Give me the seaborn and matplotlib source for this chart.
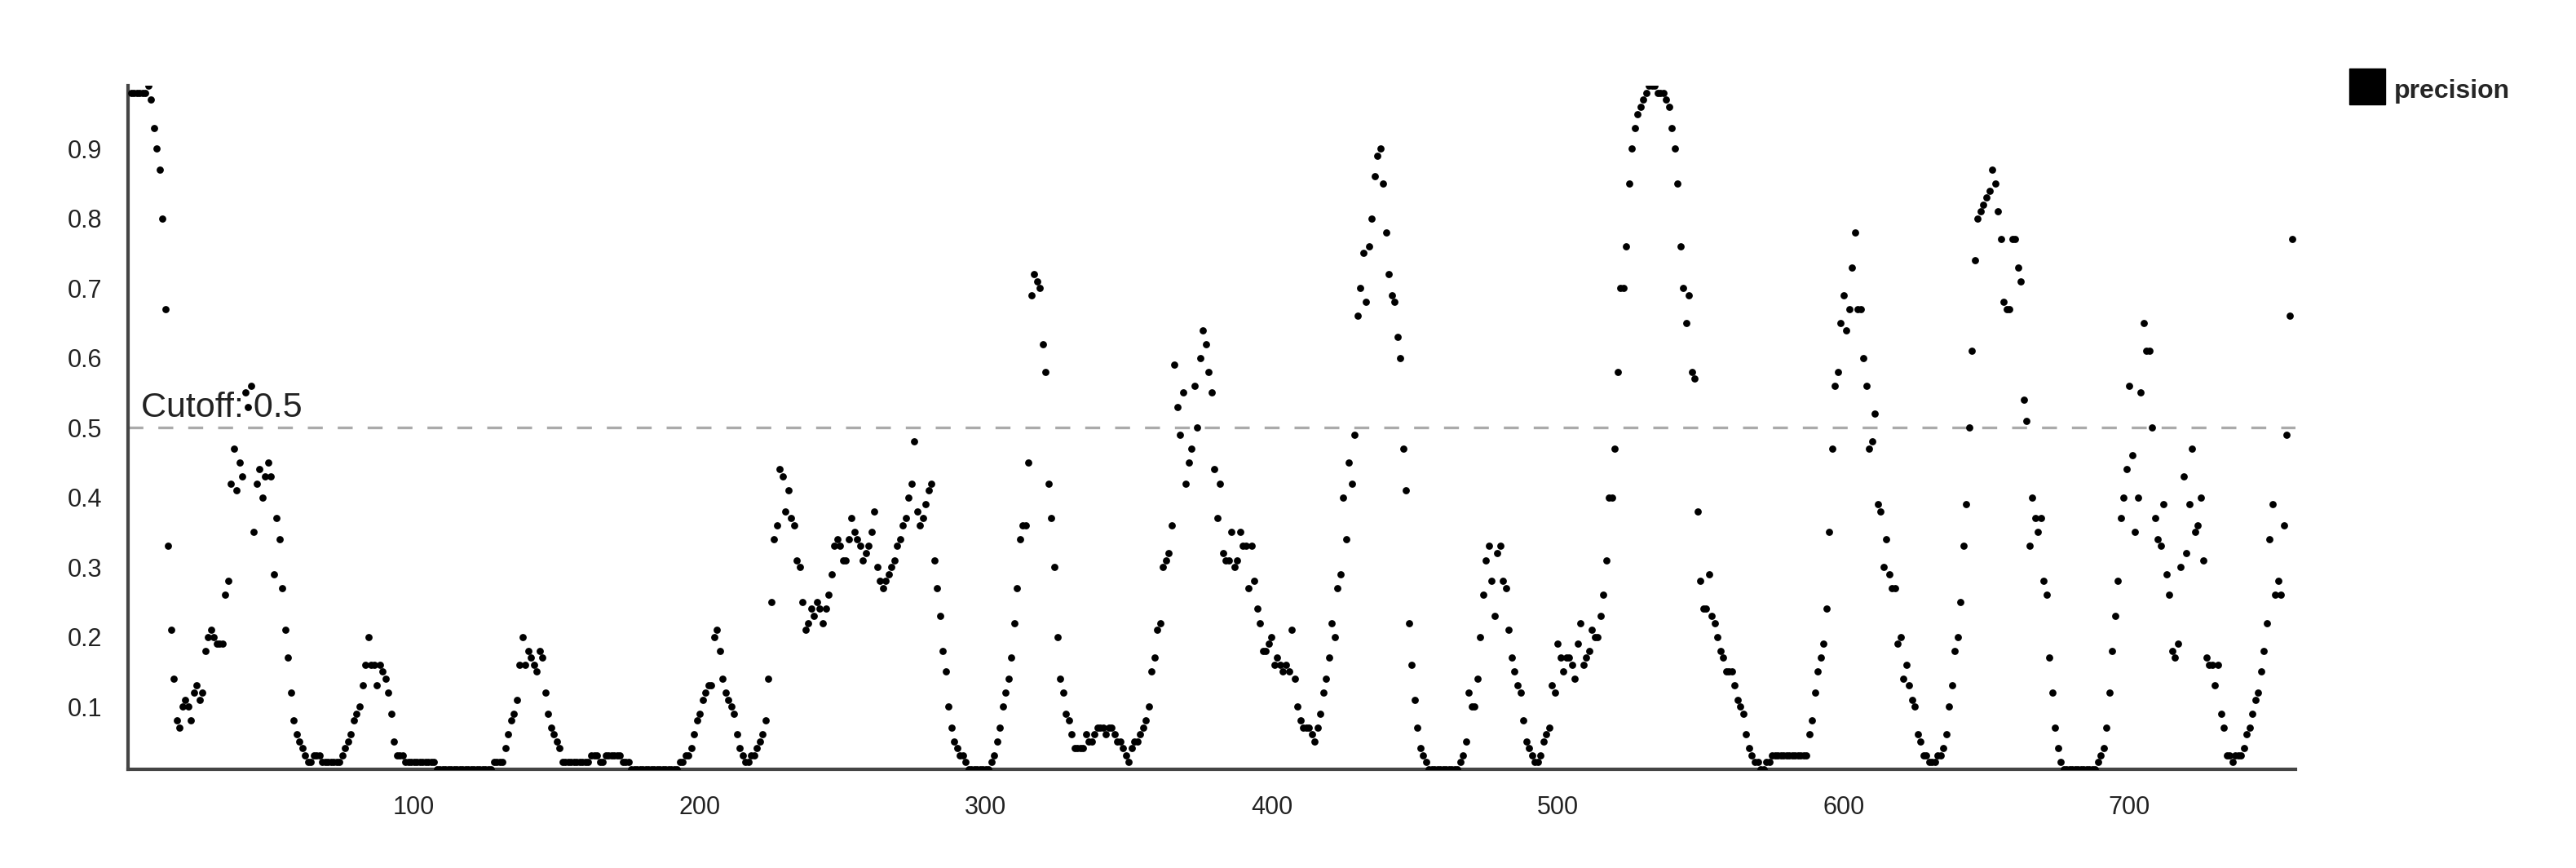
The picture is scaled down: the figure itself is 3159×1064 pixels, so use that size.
import matplotlib
matplotlib.use("Agg")
import matplotlib.pyplot as plt
import pandas as pd
import seaborn as sns
from matplotlib.lines import Line2D

# precision per residue position (positions 1..757)
prec_001_100 = [
    0.98, 0.98, 0.98, 0.98, 0.98, 0.98, 0.99, 0.97, 0.93, 0.90,
    0.87, 0.80, 0.67, 0.33, 0.21, 0.14, 0.08, 0.07, 0.10, 0.11,
    0.10, 0.08, 0.12, 0.13, 0.11, 0.12, 0.18, 0.20, 0.21, 0.20,
    0.19, 0.19, 0.19, 0.26, 0.28, 0.42, 0.47, 0.41, 0.45, 0.43,
    0.55, 0.53, 0.56, 0.35, 0.42, 0.44, 0.40, 0.43, 0.45, 0.43,
    0.29, 0.37, 0.34, 0.27, 0.21, 0.17, 0.12, 0.08, 0.06, 0.05,
    0.04, 0.03, 0.02, 0.02, 0.03, 0.03, 0.03, 0.02, 0.02, 0.02,
    0.02, 0.02, 0.02, 0.02, 0.03, 0.04, 0.05, 0.06, 0.08, 0.09,
    0.10, 0.13, 0.16, 0.20, 0.16, 0.16, 0.13, 0.16, 0.15, 0.14,
    0.12, 0.09, 0.05, 0.03, 0.03, 0.03, 0.02, 0.02, 0.02, 0.02,
]
prec_101_200 = [
    0.02, 0.02, 0.02, 0.02, 0.02, 0.02, 0.02, 0.01, 0.01, 0.01,
    0.01, 0.01, 0.01, 0.01, 0.01, 0.01, 0.01, 0.01, 0.01, 0.01,
    0.01, 0.01, 0.01, 0.01, 0.01, 0.01, 0.01, 0.02, 0.02, 0.02,
    0.02, 0.04, 0.06, 0.08, 0.09, 0.11, 0.16, 0.20, 0.16, 0.18,
    0.17, 0.16, 0.15, 0.18, 0.17, 0.12, 0.09, 0.07, 0.06, 0.05,
    0.04, 0.02, 0.02, 0.02, 0.02, 0.02, 0.02, 0.02, 0.02, 0.02,
    0.02, 0.03, 0.03, 0.03, 0.02, 0.02, 0.03, 0.03, 0.03, 0.03,
    0.03, 0.03, 0.02, 0.02, 0.02, 0.01, 0.01, 0.01, 0.01, 0.01,
    0.01, 0.01, 0.01, 0.01, 0.01, 0.01, 0.01, 0.01, 0.01, 0.01,
    0.01, 0.01, 0.02, 0.02, 0.03, 0.03, 0.04, 0.06, 0.08, 0.09,
]
prec_201_300 = [
    0.11, 0.12, 0.13, 0.13, 0.20, 0.21, 0.18, 0.14, 0.12, 0.11,
    0.10, 0.09, 0.06, 0.04, 0.03, 0.02, 0.02, 0.03, 0.03, 0.04,
    0.05, 0.06, 0.08, 0.14, 0.25, 0.34, 0.36, 0.44, 0.43, 0.38,
    0.41, 0.37, 0.36, 0.31, 0.30, 0.25, 0.21, 0.22, 0.24, 0.23,
    0.25, 0.24, 0.22, 0.24, 0.26, 0.29, 0.33, 0.34, 0.33, 0.31,
    0.31, 0.34, 0.37, 0.35, 0.34, 0.33, 0.31, 0.32, 0.33, 0.35,
    0.38, 0.30, 0.28, 0.27, 0.28, 0.29, 0.30, 0.31, 0.33, 0.34,
    0.36, 0.37, 0.40, 0.42, 0.48, 0.38, 0.36, 0.37, 0.39, 0.41,
    0.42, 0.31, 0.27, 0.23, 0.18, 0.15, 0.10, 0.07, 0.05, 0.04,
    0.03, 0.03, 0.02, 0.01, 0.01, 0.01, 0.01, 0.01, 0.01, 0.01,
]
prec_301_400 = [
    0.01, 0.02, 0.03, 0.05, 0.07, 0.10, 0.12, 0.14, 0.17, 0.22,
    0.27, 0.34, 0.36, 0.36, 0.45, 0.69, 0.72, 0.71, 0.70, 0.62,
    0.58, 0.42, 0.37, 0.30, 0.20, 0.14, 0.12, 0.09, 0.08, 0.06,
    0.04, 0.04, 0.04, 0.04, 0.06, 0.05, 0.05, 0.06, 0.07, 0.07,
    0.07, 0.06, 0.07, 0.07, 0.06, 0.05, 0.05, 0.04, 0.03, 0.02,
    0.04, 0.05, 0.05, 0.06, 0.07, 0.08, 0.10, 0.15, 0.17, 0.21,
    0.22, 0.30, 0.31, 0.32, 0.36, 0.59, 0.53, 0.49, 0.55, 0.42,
    0.45, 0.47, 0.56, 0.50, 0.60, 0.64, 0.62, 0.58, 0.55, 0.44,
    0.37, 0.42, 0.32, 0.31, 0.31, 0.35, 0.30, 0.31, 0.35, 0.33,
    0.33, 0.27, 0.33, 0.28, 0.24, 0.22, 0.18, 0.18, 0.19, 0.20,
]
prec_401_500 = [
    0.16, 0.17, 0.16, 0.15, 0.16, 0.15, 0.21, 0.14, 0.10, 0.08,
    0.07, 0.07, 0.07, 0.06, 0.05, 0.07, 0.09, 0.12, 0.14, 0.17,
    0.22, 0.20, 0.27, 0.29, 0.40, 0.34, 0.45, 0.42, 0.49, 0.66,
    0.70, 0.75, 0.68, 0.76, 0.80, 0.86, 0.89, 0.90, 0.85, 0.78,
    0.72, 0.69, 0.68, 0.63, 0.60, 0.47, 0.41, 0.22, 0.16, 0.11,
    0.07, 0.04, 0.03, 0.02, 0.01, 0.01, 0.01, 0.01, 0.01, 0.01,
    0.01, 0.01, 0.01, 0.01, 0.01, 0.02, 0.03, 0.05, 0.12, 0.10,
    0.10, 0.14, 0.20, 0.26, 0.31, 0.33, 0.28, 0.23, 0.32, 0.33,
    0.28, 0.27, 0.21, 0.17, 0.15, 0.13, 0.12, 0.08, 0.05, 0.04,
    0.03, 0.02, 0.02, 0.03, 0.05, 0.06, 0.07, 0.13, 0.12, 0.19,
]
prec_501_600 = [
    0.17, 0.15, 0.17, 0.17, 0.16, 0.14, 0.19, 0.22, 0.16, 0.17,
    0.18, 0.21, 0.20, 0.20, 0.23, 0.26, 0.31, 0.40, 0.40, 0.47,
    0.58, 0.70, 0.70, 0.76, 0.85, 0.90, 0.93, 0.95, 0.96, 0.97,
    0.98, 0.99, 0.99, 0.99, 0.98, 0.98, 0.98, 0.97, 0.96, 0.93,
    0.90, 0.85, 0.76, 0.70, 0.65, 0.69, 0.58, 0.57, 0.38, 0.28,
    0.24, 0.24, 0.29, 0.23, 0.22, 0.20, 0.18, 0.17, 0.15, 0.15,
    0.15, 0.13, 0.11, 0.10, 0.09, 0.06, 0.04, 0.03, 0.02, 0.02,
    0.01, 0.01, 0.02, 0.02, 0.03, 0.03, 0.03, 0.03, 0.03, 0.03,
    0.03, 0.03, 0.03, 0.03, 0.03, 0.03, 0.03, 0.06, 0.08, 0.12,
    0.15, 0.17, 0.19, 0.24, 0.35, 0.47, 0.56, 0.58, 0.65, 0.69,
]
prec_601_700 = [
    0.64, 0.67, 0.73, 0.78, 0.67, 0.67, 0.60, 0.56, 0.47, 0.48,
    0.52, 0.39, 0.38, 0.30, 0.34, 0.29, 0.27, 0.27, 0.19, 0.20,
    0.14, 0.16, 0.13, 0.11, 0.10, 0.06, 0.05, 0.03, 0.03, 0.02,
    0.02, 0.02, 0.03, 0.03, 0.04, 0.06, 0.10, 0.13, 0.18, 0.20,
    0.25, 0.33, 0.39, 0.50, 0.61, 0.74, 0.80, 0.81, 0.82, 0.83,
    0.84, 0.87, 0.85, 0.81, 0.77, 0.68, 0.67, 0.67, 0.77, 0.77,
    0.73, 0.71, 0.54, 0.51, 0.33, 0.40, 0.37, 0.35, 0.37, 0.28,
    0.26, 0.17, 0.12, 0.07, 0.04, 0.02, 0.01, 0.01, 0.01, 0.01,
    0.01, 0.01, 0.01, 0.01, 0.01, 0.01, 0.01, 0.01, 0.02, 0.03,
    0.04, 0.07, 0.12, 0.18, 0.23, 0.28, 0.37, 0.40, 0.44, 0.56,
]
prec_701_757 = [
    0.46, 0.35, 0.40, 0.55, 0.65, 0.61, 0.61, 0.50, 0.37, 0.34,
    0.33, 0.39, 0.29, 0.26, 0.18, 0.17, 0.19, 0.30, 0.43, 0.32,
    0.39, 0.47, 0.35, 0.36, 0.40, 0.31, 0.17, 0.16, 0.16, 0.13,
    0.16, 0.09, 0.07, 0.03, 0.03, 0.02, 0.03, 0.03, 0.03, 0.04,
    0.06, 0.07, 0.09, 0.11, 0.12, 0.15, 0.18, 0.22, 0.34, 0.39,
    0.26, 0.28, 0.26, 0.36, 0.49, 0.66, 0.77,
]

precision = (prec_001_100 + prec_101_200 + prec_201_300 + prec_301_400
             + prec_401_500 + prec_501_600 + prec_601_700 + prec_701_757)
position = list(range(1, len(precision) + 1))

x_tick_values = [100, 200, 300, 400, 500, 600, 700]
y_tick_values = [0.1, 0.2, 0.3, 0.4, 0.5, 0.6, 0.7, 0.8, 0.9]
x_domain = (0, 758)
y_domain = (0.01, 0.99)
cutoff = 0.5
series_name = "precision"

sns.set_style("white")
plt.rcParams["font.family"] = ["Liberation Sans", "DejaVu Sans"]

fig = plt.figure(figsize=(31.59, 10.64), dpi=100)
ax = fig.add_axes([0.0497, 0.1137, 0.891 - 0.0497, 0.901 - 0.1137])

df = pd.DataFrame({"position": position, "precision": precision})

ax.axhline(cutoff, color="#aaaaaa", lw=2.4, dashes=(5.5, 5.5), zorder=1)
ax.text(4.6, cutoff + 0.016, f"Cutoff: {cutoff}", fontsize=31,
        color="#222222", zorder=2)

sns.scatterplot(data=df, x="position", y="precision", color="black",
                s=40, linewidth=0, ax=ax, zorder=3, legend=False)

ax.set_xlim(*x_domain)
ax.set_ylim(*y_domain)

xt = [x_domain[0]] + x_tick_values + [x_domain[1]]
ax.set_xticks(xt)
ax.set_xticklabels([""] + [str(v) for v in x_tick_values] + [""])
yt = [y_domain[0]] + y_tick_values + [y_domain[1]]
ax.set_yticks(yt)
ax.set_yticklabels([""] + [f"{v:.1f}" for v in y_tick_values] + [""])

ax.set_xlabel("")
ax.set_ylabel("")
sns.despine(ax=ax)
for side in ("left", "bottom"):
    ax.spines[side].set_linewidth(3)
    ax.spines[side].set_color("#444444")
ax.tick_params(axis="x", length=11, width=3, color="#444444", pad=12,
               labelsize=22, labelcolor="#222222", direction="out")
ax.tick_params(axis="y", length=15, width=3, color="#444444", pad=8,
               labelsize=22, labelcolor="#222222", direction="out")

handles = [Line2D([], [], marker="s", linestyle="", markersize=31.5,
                  markerfacecolor="black", markeredgecolor="black",
                  label=series_name)]
fig.legend(handles=handles, loc="center left", bbox_to_anchor=(0.912, 0.897),
           frameon=False, borderpad=0, borderaxespad=0, handlelength=1.37,
           handleheight=1.37, handletextpad=0.35,
           prop={"weight": "bold", "size": 23})

fig.savefig("out.png", dpi=100)
